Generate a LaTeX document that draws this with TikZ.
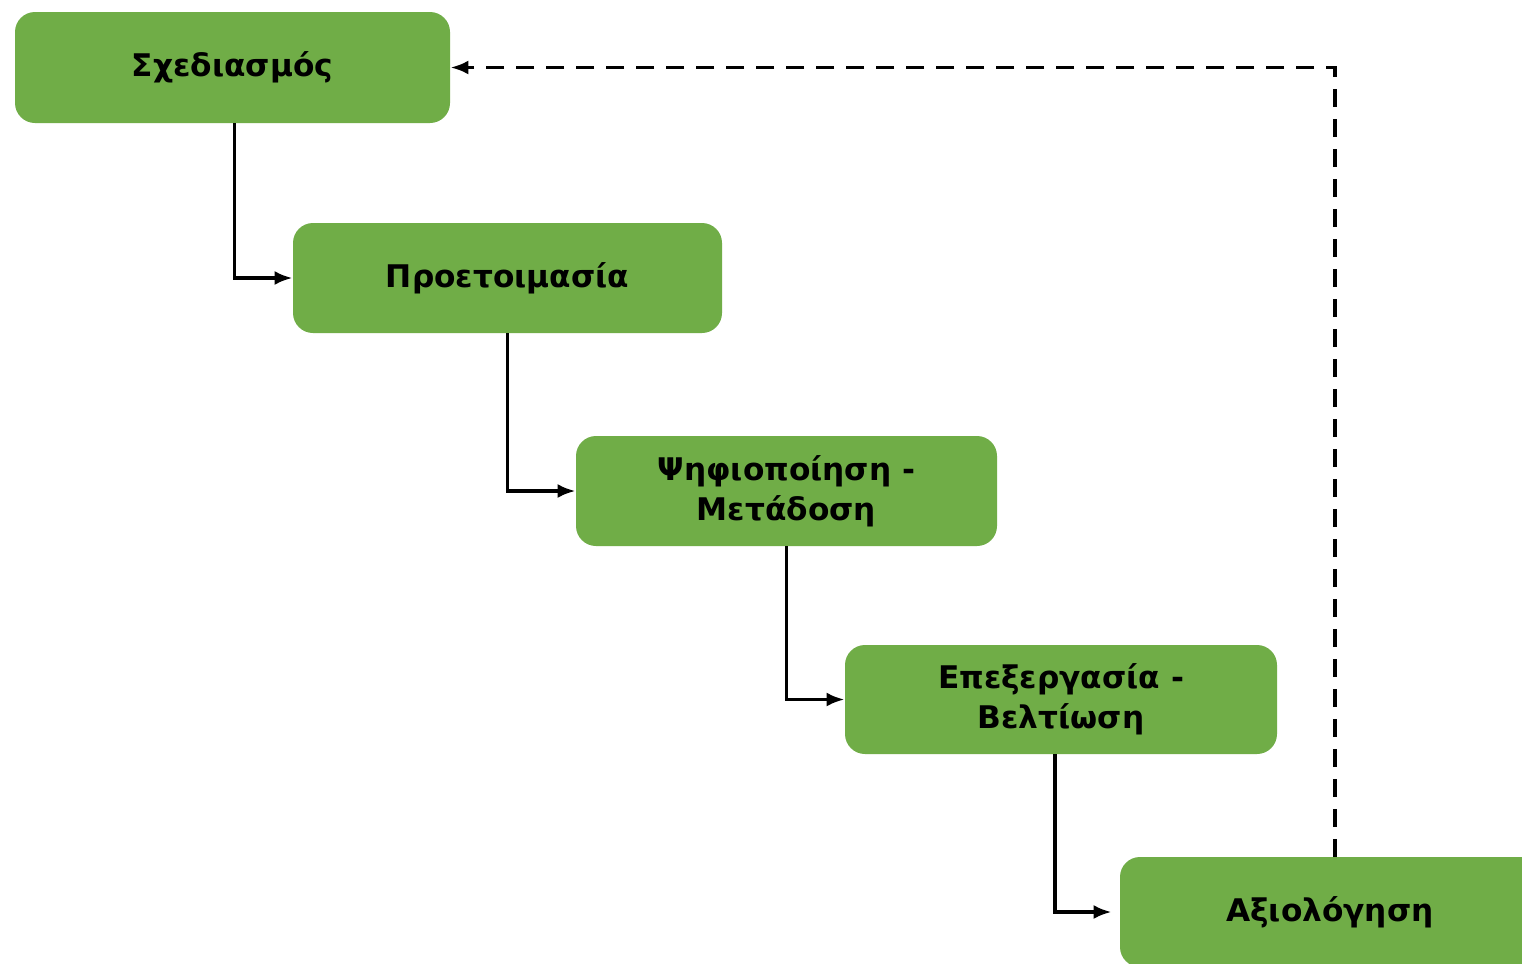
\documentclass[tikz,border=0pt]{standalone}
\usepackage{fontspec}
\setmainfont{DejaVu Sans}
\usetikzlibrary{arrows.meta}
\definecolor{boxgreen}{HTML}{70AD47}
\tikzset{
  stage/.style={fill=boxgreen, draw=none, rounded corners=10pt, align=center,
    font=\bfseries\fontsize{15.6}{20}\selectfont, text=black, inner sep=0pt},
  flow/.style={line width=1.8pt, -{Latex[length=9pt,width=7pt]}},
  back/.style={line width=1.8pt, dash pattern=on 9pt off 6pt, -{Latex[length=9pt,width=7pt]}}
}
\begin{document}
\begin{tikzpicture}[x=0.5pt,y=-0.5pt]
\clip (0,0) rectangle (1522,964);
\fill[white] (0,0) rectangle (1522,964);
\node[stage, minimum width=217.5pt, minimum height=55.5pt] (A) at (232.5,67.5) {Σχεδιασμός};
\node[stage, minimum width=214.5pt, minimum height=55pt] (B) at (507.5,278) {Προετοιμασία};
\node[stage, minimum width=210.5pt, minimum height=55pt] (C) at (786.5,491) {Ψηφιοποίηση -\\Μετάδοση};
\node[stage, minimum width=216pt, minimum height=54.5pt] (D) at (1061,699.5) {Επεξεργασία -\\Βελτίωση};
\node[stage, minimum width=210pt, minimum height=55pt] (E) at (1330,912) {Αξιολόγηση};
\draw[flow] ([xshift=1pt]A.south) |- (B.west);
\draw[flow] (B.south) |- (C.west);
\draw[flow] (C.south) |- (D.west);
\draw[flow, shorten >=4pt] ([xshift=-3pt]D.south) |- (E.west);
\draw[back] ([xshift=2.5pt]E.north) |- (A.east);
\end{tikzpicture}
\end{document}
